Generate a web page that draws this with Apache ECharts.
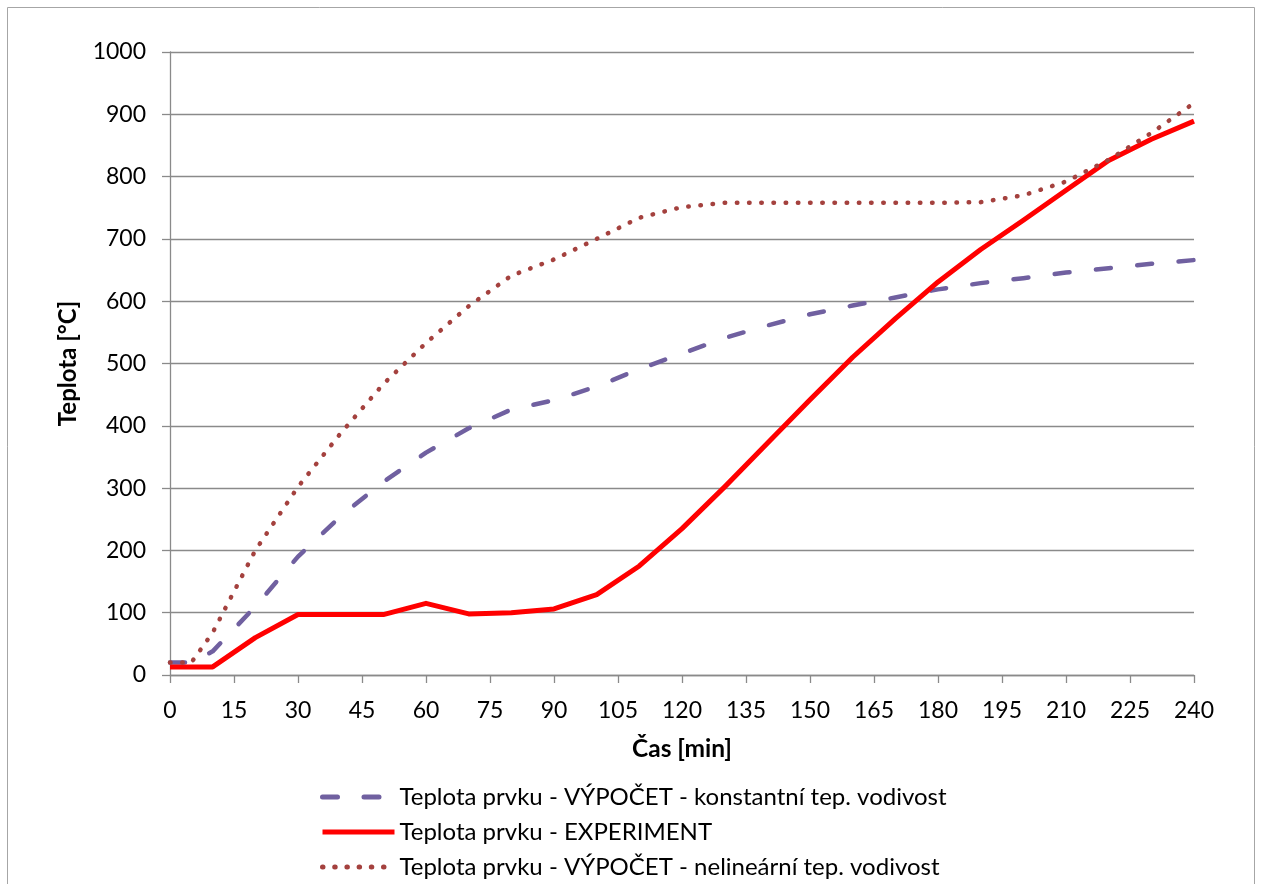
<!DOCTYPE html>
<html>
<head>
<meta charset="utf-8">
<script src="https://cdn.jsdelivr.net/npm/echarts@6/dist/echarts.min.js"></script>
<style>
  html, body { margin: 0; padding: 0; background: #ffffff; }
  #chart { width: 1262px; height: 884px; }
</style>
</head>
<body>
<div id="chart"></div>
<script>
// Time in minutes
const casMin = [0, 5, 10, 20, 30, 40, 50, 60, 70, 80, 90, 100, 110, 120, 130, 140, 150, 160, 170, 180, 190, 200, 210, 220, 230, 240];

// Calculated temperature, constant thermal conductivity [°C]
const vypocetKonst = [20, 20, 38, 110, 190, 255, 310, 357, 396, 426, 441, 463, 491, 516, 541, 561, 579, 593, 606, 619, 629, 637, 646, 653, 660, 666];

// Measured temperature [°C]
const experiment = [13, 13, 13, 60, 97, 97, 97, 115, 98, 100, 106, 129, 175, 235, 302, 372, 442, 510, 572, 631, 683, 730, 778, 826, 860, 889];

// Calculated temperature, non-linear thermal conductivity [°C]
const vypocetNelin = [20, 20, 68, 200, 302, 388, 467, 533, 592, 641, 667, 700, 734, 751, 758, 758, 758, 758, 758, 758, 759, 770, 792, 827, 870, 918];

const seriesNames = [
  'Teplota prvku - VÝPOČET - konstantní tep. vodivost',
  'Teplota prvku - EXPERIMENT',
  'Teplota prvku - VÝPOČET - nelineární tep. vodivost'
];

const pairs = vals => casMin.map((t, i) => [t, vals[i]]);

const FONT = 'Lato, "Open Sans", sans-serif';
const AXIS_GRAY = '#8a8a8a';

const chart = echarts.init(document.getElementById('chart'), null, { renderer: 'canvas' });

chart.setOption({
  animation: false,
  backgroundColor: '#ffffff',
  textStyle: { fontFamily: FONT },
  graphic: [{
    type: 'rect',
    shape: { x: 7.5, y: 7.5, width: 1247, height: 900 },
    style: { fill: 'none', stroke: '#a6a6a6', lineWidth: 1 },
    silent: true,
    z: -10
  }],
  grid: { left: 170, right: 68, top: 52, bottom: 209, containLabel: false },
  xAxis: {
    type: 'value',
    min: 0,
    max: 240,
    interval: 15,
    name: 'Čas [min]',
    nameLocation: 'middle',
    nameGap: 62,
    nameTextStyle: { fontFamily: FONT, fontWeight: 'bold', fontSize: 24.5, color: '#000000' },
    axisLine: { show: true, onZero: false, lineStyle: { color: AXIS_GRAY, width: 1.3 } },
    axisTick: { show: true, inside: false, length: 8, lineStyle: { color: AXIS_GRAY, width: 1.3 } },
    axisLabel: { margin: 24, fontFamily: FONT, fontSize: 23, color: '#000000', formatter: v => String(v) },
    splitLine: { show: false }
  },
  yAxis: {
    type: 'value',
    min: 0,
    max: 1000,
    interval: 100,
    name: 'Teplota [°C]',
    nameLocation: 'middle',
    nameRotate: 90,
    nameGap: 90,
    nameTextStyle: { fontFamily: FONT, fontWeight: 'bold', fontSize: 24, color: '#000000' },
    axisLine: { show: true, lineStyle: { color: AXIS_GRAY, width: 1.3 } },
    axisTick: { show: true, inside: false, length: 8, lineStyle: { color: AXIS_GRAY, width: 1.3 } },
    axisLabel: { margin: 24, fontFamily: FONT, fontSize: 23, color: '#000000', formatter: v => String(v) },
    splitLine: { show: true, lineStyle: { color: AXIS_GRAY, width: 1.3 } }
  },
  legend: {
    orient: 'vertical',
    left: 320,
    top: 785,
    padding: 0,
    itemWidth: 72,
    itemHeight: 14,
    itemGap: 11,
    selectedMode: false,
    textStyle: { fontFamily: FONT, fontSize: 24, color: '#000000', lineHeight: 24 },
    lineStyle: { width: 5 },
    itemStyle: { opacity: 0 },
    data: seriesNames
  },
  series: [
    {
      name: seriesNames[0],
      type: 'line',
      data: pairs(vypocetKonst),
      symbol: 'none',
      color: '#7060A0',
      lineStyle: { color: '#7060A0', width: 4.5, type: [15, 26.5], cap: 'round', join: 'round' },
      z: 2
    },
    {
      name: seriesNames[1],
      type: 'line',
      data: pairs(experiment),
      symbol: 'none',
      color: '#FF0000',
      lineStyle: { color: '#FF0000', width: 5, type: 'solid', cap: 'butt', join: 'round' },
      z: 3
    },
    {
      name: seriesNames[2],
      type: 'line',
      data: pairs(vypocetNelin),
      symbol: 'none',
      color: '#A4413E',
      lineStyle: { color: '#A4413E', width: 4.5, type: [0.5, 11.7], cap: 'round', join: 'round' },
      z: 4
    }
  ]
});
</script>
</body>
</html>
